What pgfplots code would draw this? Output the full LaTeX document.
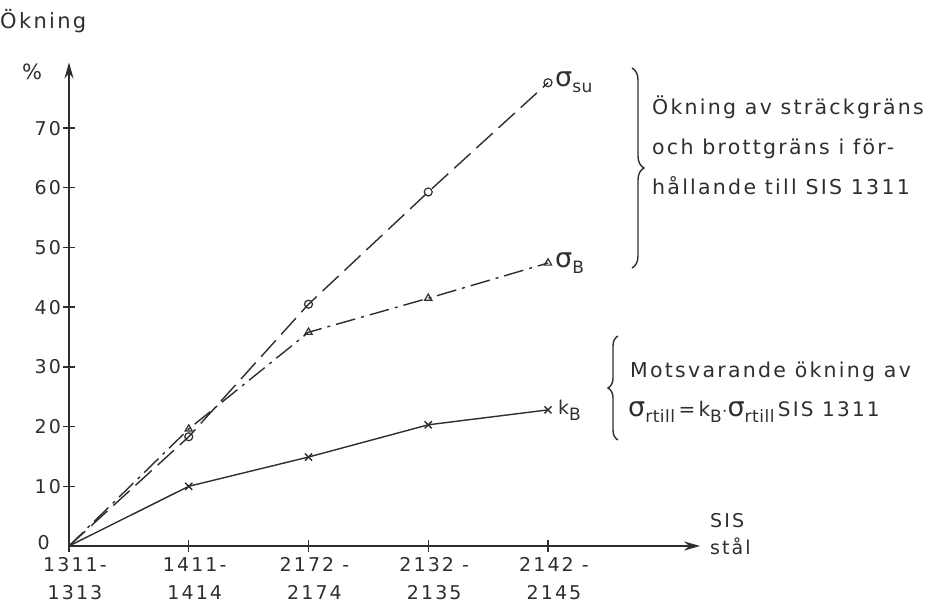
\documentclass[border=0pt]{standalone}
\usepackage{pgfplots}
\pgfplotsset{compat=1.18}
\usepackage{fontspec}
\setmainfont{DejaVu Sans}[LetterSpace=11]
\setsansfont{DejaVu Sans}[LetterSpace=11]
\newfontfamily\plain{DejaVu Sans}[LetterSpace=3]
\usetikzlibrary{arrows.meta,decorations.pathreplacing}
\definecolor{ink}{HTML}{2E2E2E}
\newcommand{\sub}[1]{\raisebox{-6pt}{\plain\fontsize{17}{17}\selectfont #1}}
\newcommand{\sig}{{\plain\fontsize{27}{27}\selectfont σ}}
\newcommand{\tl}[2]{\rule{0pt}{15pt}#1\\#2}
\begin{document}
\begin{tikzpicture}[font=\fontsize{19}{27}\selectfont, color=ink]
\useasboundingbox (0,0) rectangle (932pt,608pt);
\begin{axis}[
  anchor=origin, at={(69pt,62pt)},
  x=119.75pt, y=5.97pt, scale only axis,
  xmin=0, xmax=5.27, ymin=0, ymax=81,
  clip=false,
  axis lines=left,
  axis line style={line width=2.2pt, ink, -{Stealth[length=16pt,width=9pt]}},
  xtick={0,1,2,3,4},
  xticklabels={{\tl{1311-}{1313}},{\tl{1411-}{1414}},{\tl{2172 -}{2174}},{\tl{2132 -}{2135}},{\tl{2142 -}{2145}}},
  xticklabel style={align=center, anchor=north, font=\fontsize{19}{28}\selectfont, xshift=6pt, yshift=-1pt, text=ink},
  ytick={10,20,30,40,50,60,70},
  yticklabel style={font=\fontsize{19}{19}\selectfont, text=ink, xshift=1pt},
  /pgf/number format/assume math mode=true,
  tick align=center, major tick length=11pt,
  tick style={line width=1.4pt, ink},
  every axis plot/.append style={line width=1.4pt, ink},
]
% sigma_su
\addplot[dash pattern=on 22pt off 8pt, mark=o, mark size=4pt, mark indices={2,3,4,5},
  mark options={solid, line width=1.2pt, fill=white}]
  coordinates {(0,0) (1,18.3) (2,40.5) (3,59.3) (4,77.6)};
% sigma_B
\addplot[dash pattern=on 20pt off 6pt on 3pt off 6pt, mark=triangle, mark size=4.2pt, mark indices={2,3,4,5},
  mark options={solid, line width=1.2pt, fill=white}]
  coordinates {(0,0) (1,19.6) (2,35.8) (3,41.5) (4,47.4)};
% k_B
\addplot[solid, mark=x, mark size=5pt, mark indices={2,3,4,5},
  mark options={solid, line width=1.4pt}]
  coordinates {(0,0) (1,10) (2,14.9) (3,20.3) (4,22.8)};
\node[anchor=east, inner sep=0pt] at (axis cs:0,0) [xshift=-19pt, yshift=3pt] {0};
\node[anchor=west, inner sep=0pt] at (axis cs:4,77.6) [xshift=7pt] {\sig\sub{su}};
\node[anchor=west, inner sep=0pt] at (axis cs:4,47.4) [xshift=7pt] {\sig\sub{B}};
\node[anchor=west, inner sep=0pt] at (axis cs:4,22.8) [xshift=10pt] {k\sub{B}};
\end{axis}
\node[anchor=west, inner sep=0pt, font=\fontsize{21}{21}\selectfont] at (0pt,587pt) {Ökning};
\node[inner sep=0pt, font=\fontsize{21}{21}\selectfont] at (32pt,536pt) {\%};
\node[anchor=west, inner sep=0pt, align=left] at (710pt,74pt) {SIS\\stål};
% braces
\draw[line width=1.4pt, decorate, decoration={brace, amplitude=12pt}] (632pt,540pt) -- (632pt,340pt);
\node[anchor=west, inner sep=0pt, align=left, font=\fontsize{20.5}{40}\selectfont] at (652pt,463pt) {Ökning av sträckgräns\\och brottgräns i för-\\hållande till SIS 1311};
\draw[line width=1.4pt, decorate, decoration={brace, amplitude=10pt}] (618pt,168pt) -- (618pt,272pt);
\node[anchor=west, inner sep=0pt, font=\fontsize{20.5}{20}\selectfont] at (630pt,236pt) {Motsvarande ökning av};
\node[anchor=west, inner sep=0pt, font=\fontsize{20}{20}\selectfont] at (628pt,196pt) {\sig\sub{rtill}\,=\,k\sub{B}$\cdot$\sig\sub{rtill}\,SIS 1311};
\end{tikzpicture}
\end{document}
